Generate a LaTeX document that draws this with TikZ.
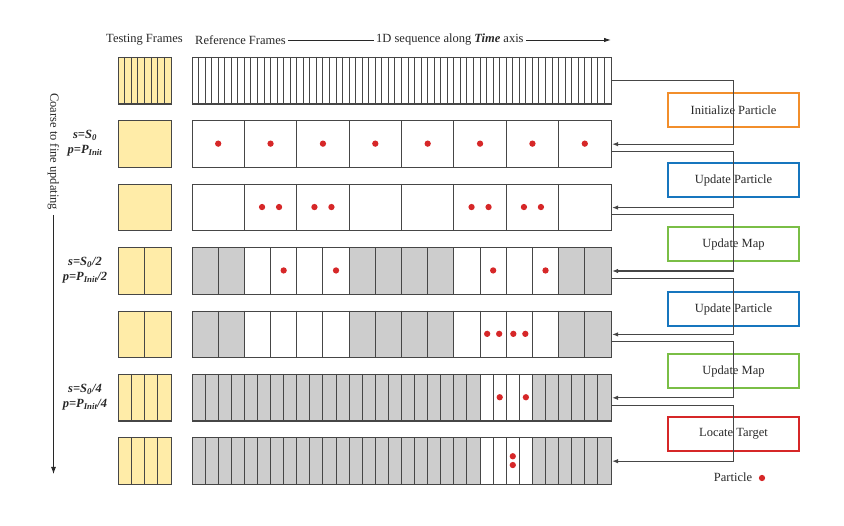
\documentclass[tikz,border=0pt]{standalone}
\usepackage{fontspec}
\setmainfont{Liberation Serif}
\usetikzlibrary{arrows.meta}
\definecolor{lc}{RGB}{70,70,70}
\definecolor{yel}{RGB}{255,236,168}
\definecolor{cellgray}{RGB}{205,205,205}
\definecolor{dotred}{RGB}{214,39,40}
\definecolor{borange}{RGB}{242,142,43}
\definecolor{bblue}{RGB}{23,118,190}
\definecolor{bgreen}{RGB}{122,190,70}
\definecolor{bred}{RGB}{214,39,40}
\definecolor{txt}{RGB}{40,40,40}
\begin{document}
\begin{tikzpicture}[x=1pt,y=-1pt,
  every node/.style={font=\fontsize{12.5}{15}\selectfont, text=txt},
  strip/.style={draw=lc, line width=1.1pt, minimum width=419pt, minimum height=46.5pt, inner sep=0pt, anchor=north west},
  tframe/.style={draw=lc, line width=1.1pt, fill=yel, minimum width=53pt, minimum height=46.5pt, inner sep=0pt, anchor=north west},
  div/.style={draw=lc, line width=1pt},
  dot/.style={circle, fill=dotred, draw=none, inner sep=0pt, minimum size=6.3pt},
  pbox/.style={draw=#1, line width=1.7pt, minimum width=131pt, minimum height=34pt, inner sep=0pt},
  conn/.style={draw=lc, line width=1.1pt, -{Latex[length=6pt,width=4.5pt]}},
  hline/.style={draw=txt, line width=0.9pt},
  lab/.style={align=center, font=\fontsize{12.5}{15}\selectfont\bfseries\itshape},
]
\useasboundingbox (0,0) rectangle (844,526);

% ---------- header ----------
\node (hTest) at (144.5,40) {Testing Frames};
\node[anchor=west, inner sep=2pt] (hRef) at (193,40) {Reference Frames};
\node[anchor=west, inner sep=2pt] (hSeq) at (374,40) {1D sequence along \textbf{\textit{Time}} axis};
\coordinate (hEnd) at (611,40);
\draw[hline] (hRef.east) -- (hSeq.west);
\draw[hline, -{Latex[length=7pt,width=4.5pt]}] (hSeq.east) -- (hEnd);

% ---------- coarse to fine ----------
\node[rotate=-90, anchor=west, inner sep=0pt] (ctf) at (53.5,93) {Coarse to fine updating};
\coordinate (ctfEnd) at (53.5,474);
\draw[hline, -{Latex[length=7pt,width=5pt]}] ([shift={(0,4.5)}]ctf.east) -- (ctfEnd);

% ---------- left labels ----------
\node[lab] (lab2) at (85,143.6) {s=S\textsubscript{0}\\p=P\textsubscript{Init}};
\node[lab] (lab4) at (85,270.4) {s=S\textsubscript{0}/2\\p=P\textsubscript{Init}/2};
\node[lab] (lab6) at (85,397.2) {s=S\textsubscript{0}/4\\p=P\textsubscript{Init}/4};

% ---------- row 1 ----------
\node[tframe] (t1) at (118,57) {};
\foreach \k in {1,...,7} \draw[div] ({118+\k*6.625},57) -- ++(0,46.5);
\node[strip] (r1) at (192,57) {};
\foreach \k in {1,...,63} \draw[div] ({192+\k*6.546875},57) -- ++(0,46.5);

% ---------- row 2 ----------
\node[tframe] (t2) at (118,120.4) {};
\node[strip] (r2) at (192,120.4) {};
\foreach \k in {1,...,7} \draw[div] ({192+\k*52.375},120.4) -- ++(0,46.5);
\foreach \k in {1,...,8} \node[dot] (p2-\k) at ({192+(\k-0.5)*52.375},143.65) {};

% ---------- row 3 ----------
\node[tframe] (t3) at (118,183.8) {};
\node[strip] (r3) at (192,183.8) {};
\foreach \k in {1,...,7} \draw[div] ({192+\k*52.375},183.8) -- ++(0,46.5);
\foreach \c [count=\i] in {2,3,6,7} {
  \node[dot] (p3a-\i) at ({192+(\c-0.5)*52.375-8.5},207.05) {};
  \node[dot] (p3b-\i) at ({192+(\c-0.5)*52.375+8.5},207.05) {};
}

% ---------- row 4 ----------
\node[tframe] (t4) at (118,247.2) {};
\draw[div] (144.5,247.2) -- ++(0,46.5);
\fill[cellgray] (192,247.2) rectangle (244.375,293.7);
\fill[cellgray] (349.125,247.2) rectangle (453.875,293.7);
\fill[cellgray] (558.625,247.2) rectangle (611,293.7);
\node[strip] (r4) at (192,247.2) {};
\foreach \k in {1,...,15} \draw[div] ({192+\k*26.1875},247.2) -- ++(0,46.5);
\foreach \c [count=\i] in {4,6,12,14}
  \node[dot] (p4-\i) at ({192+(\c-0.5)*26.1875},270.45) {};

% ---------- row 5 ----------
\node[tframe] (t5) at (118,310.6) {};
\draw[div] (144.5,310.6) -- ++(0,46.5);
\fill[cellgray] (192,310.6) rectangle (244.375,357.1);
\fill[cellgray] (349.125,310.6) rectangle (453.875,357.1);
\fill[cellgray] (558.625,310.6) rectangle (611,357.1);
\node[strip] (r5) at (192,310.6) {};
\foreach \k in {1,...,15} \draw[div] ({192+\k*26.1875},310.6) -- ++(0,46.5);
\foreach \c [count=\i] in {12,13} {
  \node[dot] (p5a-\i) at ({192+(\c-0.5)*26.1875-6},333.85) {};
  \node[dot] (p5b-\i) at ({192+(\c-0.5)*26.1875+6},333.85) {};
}

% ---------- row 6 ----------
\node[tframe] (t6) at (118,374) {};
\foreach \k in {1,2,3} \draw[div] ({118+\k*13.25},374) -- ++(0,46.5);
\fill[cellgray] (192,374) rectangle (480.0625,420.5);
\fill[cellgray] (532.4375,374) rectangle (611,420.5);
\node[strip] (r6) at (192,374) {};
\foreach \k in {1,...,31} \draw[div] ({192+\k*13.09375},374) -- ++(0,46.5);
\foreach \c [count=\i] in {24,26}
  \node[dot] (p6-\i) at ({192+(\c-0.5)*13.09375},397.25) {};

% ---------- row 7 ----------
\node[tframe] (t7) at (118,437.4) {};
\foreach \k in {1,2,3} \draw[div] ({118+\k*13.25},437.4) -- ++(0,46.5);
\fill[cellgray] (192,437.4) rectangle (480.0625,483.9);
\fill[cellgray] (532.4375,437.4) rectangle (611,483.9);
\node[strip] (r7) at (192,437.4) {};
\foreach \k in {1,...,31} \draw[div] ({192+\k*13.09375},437.4) -- ++(0,46.5);
\node[dot] (p7-1) at ({192+24.5*13.09375},456.25) {};
\node[dot] (p7-2) at ({192+24.5*13.09375},465.05) {};

% ---------- process boxes ----------
\node[pbox=borange] (b1) at (733.5,110) {Initialize Particle};
\node[pbox=bblue]   (b2) at (733.5,180) {Update Particle};
\node[pbox=bgreen]  (b3) at (733.5,244) {Update Map};
\node[pbox=bblue]   (b4) at (733.5,309) {Update Particle};
\node[pbox=bgreen]  (b5) at (733.5,371) {Update Map};
\node[pbox=bred]    (b6) at (733.5,434) {Locate Target};

% ---------- connectors (through the boxes) ----------
\draw[conn] (r1.east) -- (r1.east -| b1.north) -- (b1.north) -- (b1.south) -- (b1.south |- r2.east) -- (r2.east);
\draw[conn] ([yshift=-7.3pt]r2.east) -- ([yshift=-7.3pt]r2.east -| b2.north) -- (b2.north) -- (b2.south) -- (b2.south |- r3.east) -- (r3.east);
\draw[conn] ([yshift=-7.3pt]r3.east) -- ([yshift=-7.3pt]r3.east -| b3.north) -- (b3.north) -- (b3.south) -- (b3.south |- r4.east) -- (r4.east);
\draw[conn] ([yshift=-7.3pt]r4.east) -- ([yshift=-7.3pt]r4.east -| b4.north) -- (b4.north) -- (b4.south) -- (b4.south |- r5.east) -- (r5.east);
\draw[conn] ([yshift=-7.3pt]r5.east) -- ([yshift=-7.3pt]r5.east -| b5.north) -- (b5.north) -- (b5.south) -- (b5.south |- r6.east) -- (r6.east);
\draw[conn] ([yshift=-7.3pt]r6.east) -- ([yshift=-7.3pt]r6.east -| b6.north) -- (b6.north) -- (b6.south) -- (b6.south |- r7.east) -- (r7.east);

% ---------- legend ----------
\node (leg) at (733,477) {Particle};
\node[dot] (legdot) at (762,478) {};
\end{tikzpicture}
\end{document}
